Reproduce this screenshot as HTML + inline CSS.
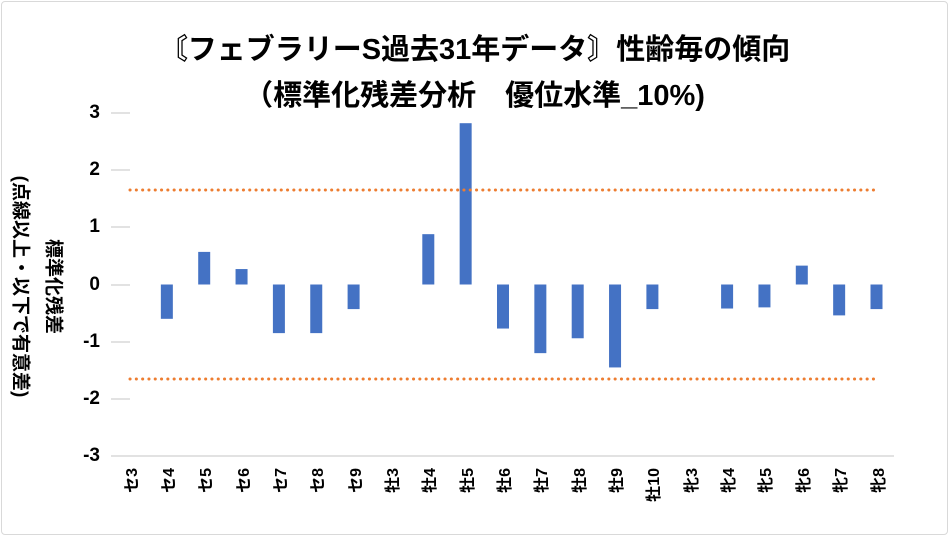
<!DOCTYPE html>
<html><head><meta charset="utf-8"><style>
body{margin:0;background:#fff;}
#c{position:relative;width:949px;height:536px;overflow:hidden;font-family:"Liberation Sans","Noto Sans CJK JP",sans-serif;}
.t{position:absolute;left:0;width:949px;text-align:center;font-weight:bold;font-size:29px;color:#000;white-space:nowrap;}
.yl{position:absolute;left:66px;width:34px;text-align:right;font-weight:bold;font-size:19px;}
.xl{position:absolute;font-weight:bold;font-size:16px;transform:rotate(-90deg);transform-origin:center;white-space:nowrap;width:44px;text-align:right;}
.at{position:absolute;font-weight:bold;font-size:19px;white-space:nowrap;transform:rotate(90deg);}
</style></head><body><div id="c">
<div style="position:absolute;left:1px;top:1px;width:945px;height:532px;border:1px solid #d9d9d9;border-radius:4px"></div>
<div class="t" style="top:26px">〘フェブラリーS過去31年データ〙性齢毎の傾向</div>
<div class="t" style="top:72px">（標準化残差分析　優位水準_10%)</div>
<div class="at" style="left:-103px;top:273px;width:250px;text-align:center">(点線以上・以下で有意差)</div>
<div class="at" style="left:-5px;top:273px;width:120px;text-align:center">標準化残差</div>
<svg width="949" height="536" style="position:absolute;left:0;top:0">
<g stroke="#d9d9d9" stroke-width="1.5">
<line x1="111" x2="130" y1="113" y2="113"/><line x1="111" x2="130" y1="170" y2="170"/><line x1="111" x2="130" y1="227" y2="227"/><line x1="111" x2="130" y1="285" y2="285"/><line x1="111" x2="130" y1="342" y2="342"/><line x1="111" x2="130" y1="399" y2="399"/><line x1="111" x2="894" y1="456" y2="456"/>
</g>
<g id="bars" fill="#4472c4"></g>
<line x1="130" x2="877" y1="190" y2="190" stroke="#ed7d31" stroke-width="3" stroke-dasharray="0.1 6.2" stroke-linecap="round"/>
<line x1="130" x2="877" y1="379" y2="379" stroke="#ed7d31" stroke-width="3" stroke-dasharray="0.1 6.2" stroke-linecap="round"/>
</svg>
<div id="yl"></div><div id="xl"></div>
</div>
<script>
var v=[0,-0.6,0.57,0.27,-0.85,-0.85,-0.43,0,0.88,2.82,-0.77,-1.2,-0.94,-1.45,-0.43,0,-0.42,-0.4,0.33,-0.54,-0.43];
var n=["セ3","セ4","セ5","セ6","セ7","セ8","セ9","牡3","牡4","牡5","牡6","牡7","牡8","牡9","牡10","牝3","牝4","牝5","牝6","牝7","牝8"];
var b="",x="",y="";
for(var i=0;i<21;i++){var cx=129.5+i*37.35,z=284.5,h=v[i]*57.2;
if(v[i]!=0)b+='<rect x="'+(cx-6)+'" y="'+(h>0?z-h:z)+'" width="12" height="'+Math.abs(h)+'"/>';
x+='<div class="xl" style="left:'+(cx-22)+'px;top:'+(478)+'px">'+n[i]+'</div>';}
for(var k=3;k>=-3;k--)y+='<div class="yl" style="top:'+(284.5-k*57.2-11)+'px">'+k+'</div>';
document.getElementById("bars").innerHTML=b;document.getElementById("xl").innerHTML=x;document.getElementById("yl").innerHTML=y;
</script>
</body></html>
